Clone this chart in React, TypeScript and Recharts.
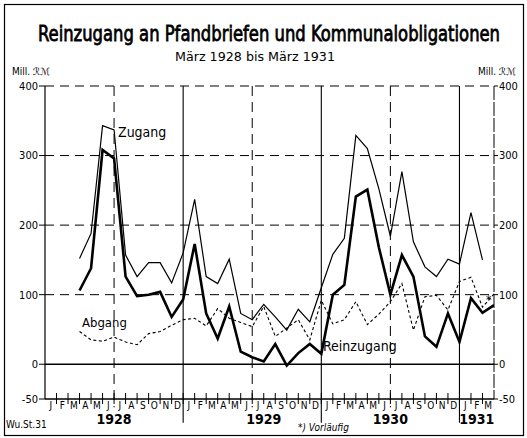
import React from 'react';
import { LineChart, Line, XAxis, YAxis, ReferenceLine } from 'recharts';

const MONTH_LETTERS = ['J', 'F', 'M', 'A', 'M', 'J', 'J', 'A', 'S', 'O', 'N', 'D'];
// month-end index k (k = 3 -> end of March 1928 ... k = 39 -> end of March 1931)
const MONTH_INDEX = [3,4,5,6,7,8,9,10,11,12,13,14,15,16,17,18,19,20,21,22,23,24,25,26,27,28,29,30,31,32,33,34,35,36,37,38,39];
const ZUGANG = [152,188,343,337,157,126,146,146,117,160,237,126,116,151,73,64,86,68,49,79,61,110,158,181,329,310,252,184,277,176,140,126,151,144,218,150,null];
const ABGANG = [47,35,33,39,32,28,44,47,56,64,66,55,80,66,60,54,83,40,52,64,35,92,58,64,90,57,72,90,116,49,97,99,78,119,125,82,101];
const REINZUGANG = [106,138,308,296,126,98,100,104,68,93,173,73,37,83,18,10,4,29,-2,16,29,15,100,114,241,251,168,100,157,126,40,25,73,32,95,74,85];

const Y_TICKS = [-50, 0, 100, 200, 300, 400];
const BOUNDARY_TICKS = Array.from({ length: 40 }, (_, i) => i); // 0..39 month boundaries
const N_MONTHS = 39;
const YEAR_TICKS = [6, 19, 30, 37.5];
const YEAR_LABELS = ['1928', '1929', '1930', '1931'];
const MID_YEAR_LINES = [6, 18, 30];
const YEAR_LINES = [12, 24, 36];
const GRID_LEVELS = [100, 200, 300, 400];

const data = MONTH_INDEX.map((k, i) => ({
  k,
  zugang: ZUGANG[i],
  abgang: ABGANG[i],
  rein: REINZUGANG[i],
}));

const FONT = "'DejaVu Sans Condensed', 'DejaVu Sans', sans-serif";
const W = 527;
const H = 438;
const X_DOMAIN: [number, number] = [0, 39];
const Y_DOMAIN: [number, number] = [-50, 400];

// Month-boundary tick: a short stroke crossing the axis, plus the month letter in the cell to its right.
function MonthTick(props: any) {
  const { x, y, payload, width } = props;
  const k = payload.value as number;
  const cell = (width as number) / N_MONTHS;
  return (
    <g>
      {k > 0 && k < N_MONTHS ? (
        <line x1={x} x2={x} y1={y - 6} y2={y + 5} stroke="#000" strokeWidth={1} />
      ) : null}
      {k < N_MONTHS ? (
        <text x={x + cell / 2} y={y + 9.5} textAnchor="middle" fontSize={10} fontFamily={FONT} fill="#000">
          {MONTH_LETTERS[k % 12]}
        </text>
      ) : null}
    </g>
  );
}

export default function App() {
  return (
    <div style={{ position: 'absolute', left: 0, top: 0, width: W, height: H, background: '#fff' }}>
      <LineChart
        width={W}
        height={H}
        data={data}
        margin={{ top: 86, right: 3, bottom: 9, left: 15 }}
        style={{ fontFamily: FONT }}
      >
        <XAxis
          xAxisId="m"
          dataKey="k"
          type="number"
          domain={X_DOMAIN}
          allowDataOverflow
          ticks={BOUNDARY_TICKS}
          interval={0}
          tickLine={false}
          tickSize={0}
          tickMargin={0}
          height={15}
          axisLine={{ stroke: '#000', strokeWidth: 1.2 }}
          tick={<MonthTick />}
        />
        <XAxis
          xAxisId="y"
          dataKey="k"
          type="number"
          domain={X_DOMAIN}
          allowDataOverflow
          ticks={YEAR_TICKS}
          interval={0}
          tickFormatter={(v: number) => YEAR_LABELS[YEAR_TICKS.indexOf(v)]}
          tickLine={false}
          tickSize={0}
          tickMargin={0}
          height={15}
          axisLine={false}
          tick={{ fill: '#000', fontSize: 14, fontFamily: FONT, fontWeight: 'bold' }}
        />
        <YAxis
          yAxisId="l"
          domain={Y_DOMAIN}
          allowDataOverflow
          ticks={Y_TICKS}
          interval={0}
          width={30}
          tickSize={6}
          tickMargin={1}
          axisLine={{ stroke: '#000', strokeWidth: 1.2 }}
          tickLine={{ stroke: '#000' }}
          tick={{ fill: '#000', fontSize: 11, fontFamily: FONT }}
        />
        <YAxis
          yAxisId="r"
          orientation="right"
          domain={Y_DOMAIN}
          allowDataOverflow
          ticks={Y_TICKS}
          interval={0}
          width={30}
          tickSize={4}
          tickMargin={1}
          axisLine={{ stroke: '#000', strokeWidth: 1, strokeDasharray: '14 2' }}
          tickLine={{ stroke: '#000' }}
          tick={{ fill: '#000', fontSize: 11, fontFamily: FONT }}
        />

        {GRID_LEVELS.map((v) => (
          <ReferenceLine
            key={'h' + v}
            xAxisId="m"
            yAxisId="l"
            y={v}
            stroke="#000"
            strokeWidth={1}
            strokeDasharray="9 6"
          />
        ))}
        <ReferenceLine xAxisId="m" yAxisId="l" y={0} stroke="#000" strokeWidth={1.6} />
        <ReferenceLine xAxisId="m" yAxisId="l" y={-50} stroke="#000" strokeWidth={1.2} ifOverflow="visible" />
        {MID_YEAR_LINES.map((v) => (
          <ReferenceLine
            key={'mv' + v}
            xAxisId="m"
            yAxisId="l"
            segment={[{ x: v, y: 400 }, { x: v, y: -62 }]}
            ifOverflow="visible"
            stroke="#000"
            strokeWidth={1}
            strokeDasharray="10 6"
          />
        ))}
        {YEAR_LINES.map((v) => (
          <ReferenceLine
            key={'yv' + v}
            xAxisId="m"
            yAxisId="l"
            segment={[{ x: v, y: 400 }, { x: v, y: -84 }]}
            ifOverflow="visible"
            stroke="#000"
            strokeWidth={1.1}
          />
        ))}

        <Line
          xAxisId="m"
          yAxisId="l"
          dataKey="abgang"
          stroke="#000"
          strokeWidth={1.1}
          strokeDasharray="3 2.5"
          dot={false}
          isAnimationActive={false}
        />
        <Line
          xAxisId="m"
          yAxisId="l"
          dataKey="zugang"
          stroke="#000"
          strokeWidth={1.2}
          dot={false}
          connectNulls={false}
          isAnimationActive={false}
        />
        <Line
          xAxisId="m"
          yAxisId="l"
          dataKey="rein"
          stroke="#000"
          strokeWidth={2.6}
          strokeLinejoin="miter"
          dot={false}
          isAnimationActive={false}
        />
      </LineChart>

      <svg
        width={W}
        height={H}
        style={{ position: 'absolute', left: 0, top: 0, pointerEvents: 'none' }}
        fontFamily={FONT}
      >
        <rect x={4.5} y={4.5} width={519} height={431} fill="none" stroke="#000" strokeWidth={1.2} />
        <text
          transform="translate(269 41) scale(1 1.25)"
          x={0}
          y={0}
          textAnchor="middle"
          fontSize={17}
          stroke="#000"
          strokeWidth={0.6}
          textLength={462}
          lengthAdjust="spacingAndGlyphs"
        >
          Reinzugang an Pfandbriefen und Kommunalobligationen
        </text>
        <text x={255} y={61} textAnchor="middle" fontSize={13} textLength={160} lengthAdjust="spacingAndGlyphs">
          März 1928 bis März 1931
        </text>
        <text x={12} y={75} fontSize={10}>Mill. ℛℳ</text>
        <text x={478} y={75} fontSize={10}>Mill. ℛℳ</text>
        <text x={118} y={137} fontSize={14}>Zugang</text>
        <text x={82} y={327} fontSize={13}>Abgang</text>
        <text x={323} y={351} fontSize={14}>Reinzugang</text>
        <text x={486} y={304} fontSize={12}>*</text>
        <text x={6} y={428} fontSize={10}>Wu.St.31</text>
        <text x={298} y={431} fontSize={10} fontStyle="italic">*) Vorläufig</text>
      </svg>
    </div>
  );
}
